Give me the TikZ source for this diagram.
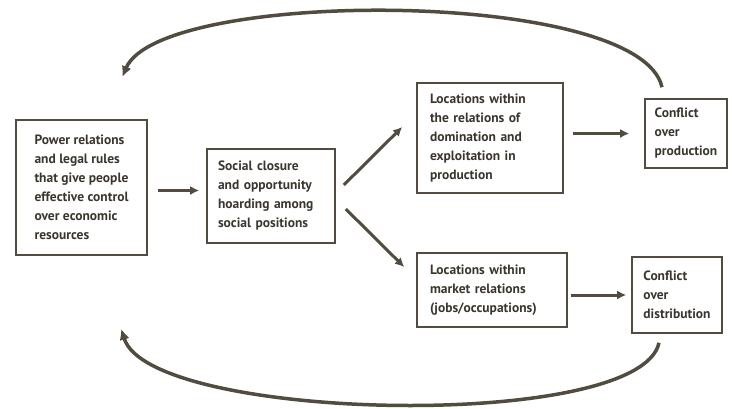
\documentclass[tikz,border=0pt]{standalone}
\usepackage{fontspec}
\setmainfont{PT Sans}
\usetikzlibrary{arrows.meta}
\definecolor{trait}{HTML}{514B40}
\definecolor{encre}{HTML}{3A362F}

\begin{document}
\begin{tikzpicture}[x=1pt, y=-1pt,
  boite/.style={draw=trait, line width=1.6pt, text=encre, align=left,
    inner sep=0pt, font=\bfseries\fontsize{13.5}{19}\selectfont},
  fleche/.style={draw=trait, line width=3pt, -{Latex[length=9pt,width=9pt]}},
  retour/.style={draw=trait, line width=3.5pt, -{Latex[length=11pt,width=10pt]}}]

%% cadre de l'image
\useasboundingbox (0,0) rectangle (732,408);

%% boites
\node[boite, minimum width=131pt, minimum height=135pt] (pouvoir) at (81.5,187.5)
  {Power relations\\and legal rules\\that give people\\effective control\\over economic\\resources};
\node[boite, minimum width=128pt, minimum height=94pt, text width=106pt] (fermeture) at (271,196)
  {Social closure\\and opportunity\\hoarding among\\social positions};
\node[boite, minimum width=146pt, minimum height=110pt, text width=120pt] (domination) at (490,138)
  {Locations within\\the relations of\\domination and\\exploitation in\\production};
\node[boite, minimum width=150pt, minimum height=74pt, text width=124pt] (marche) at (492,290)
  {Locations within\\market relations\\(jobs/occupations)};
\node[boite, minimum width=82pt, minimum height=69pt] (confprod) at (686,133.5)
  {Conflict\\over\\production};
\node[boite, minimum width=90pt, minimum height=76pt] (confdist) at (677,295)
  {Conflict\\over\\distribution};

%% fleches droites
\draw[fleche, shorten <=10pt, shorten >=7pt]
  ([yshift=-3pt]pouvoir.east) -- ([yshift=-3pt]pouvoir.east -| fermeture.west);
\draw[fleche] ([xshift=8pt,yshift=11pt]fermeture.east) -- ([xshift=-14pt,yshift=11pt]domination.west);
\draw[fleche] ([xshift=10pt,yshift=-13pt]fermeture.east) -- ([xshift=-12pt,yshift=23pt]marche.west);
\draw[fleche, shorten <=9pt, shorten >=15pt] (domination.east |- confprod.west) -- (confprod.west);
\draw[fleche, shorten <=3pt, shorten >=5pt] (marche.east |- confdist.west) -- (confdist.west);

%% retours (courbes)
\draw[retour] ([xshift=-24pt,yshift=11pt]confprod.north)
  .. controls (640,-12) and (160,-12) .. ([xshift=107pt,yshift=42pt]pouvoir.north west);
\draw[retour] ([xshift=-18pt,yshift=-9pt]confdist.south)
  .. controls (640,432) and (150,422) .. ([xshift=106pt,yshift=-73pt]pouvoir.south west);

\end{tikzpicture}
\end{document}
